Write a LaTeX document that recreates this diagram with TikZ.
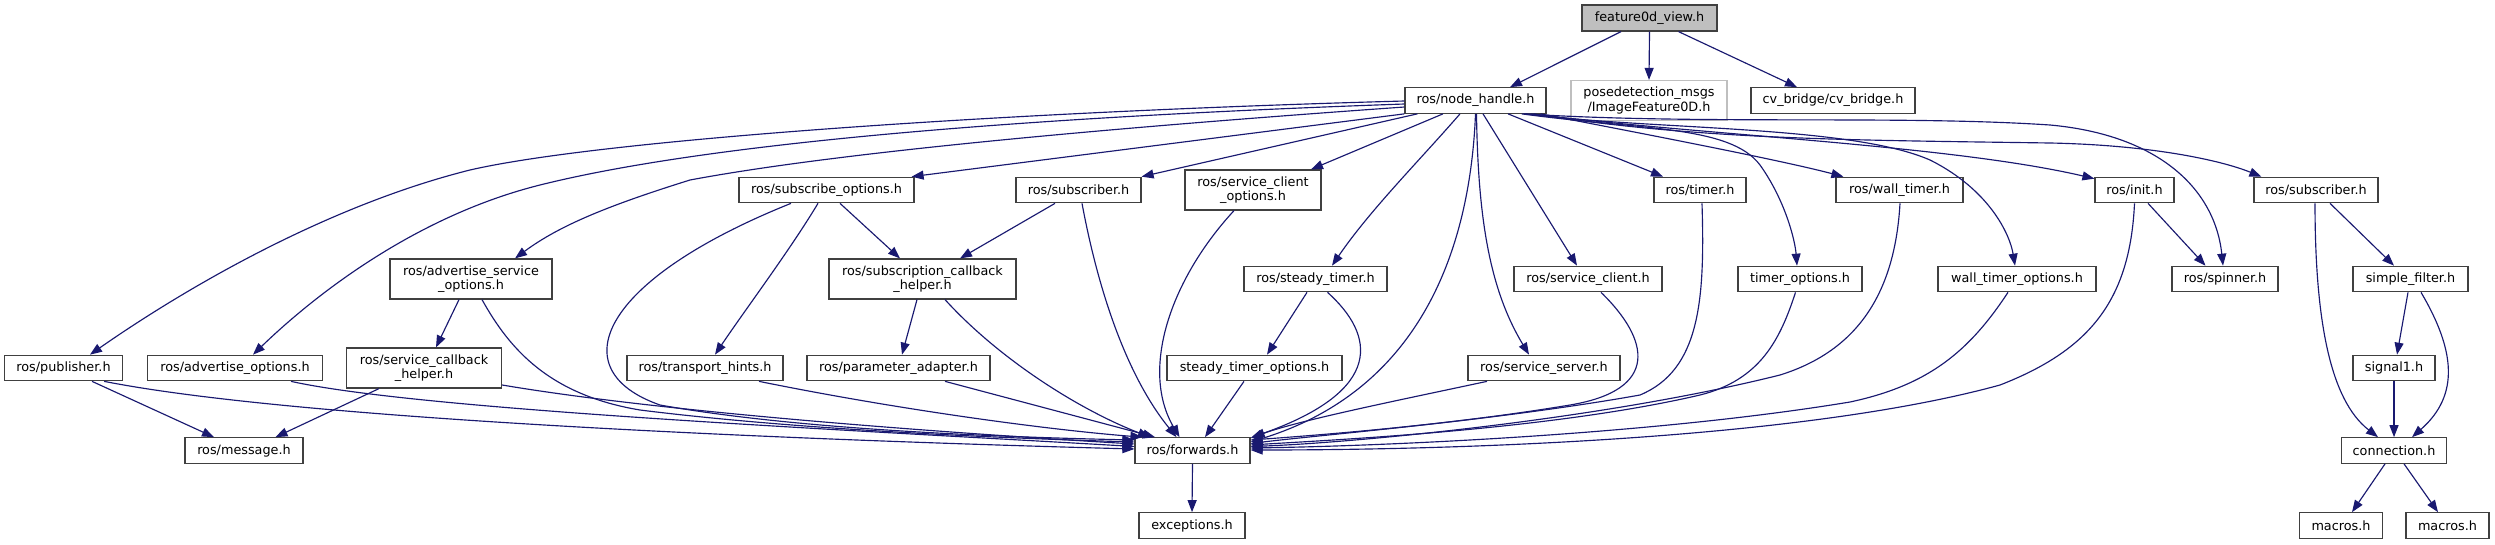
\documentclass[tikz,border=0pt]{standalone}
\usepackage{fontspec}
\setmainfont{DejaVu Sans}
\usetikzlibrary{arrows.meta,calc}
\definecolor{edgeblue}{HTML}{191970}
\definecolor{nodegray}{HTML}{404040}
\definecolor{rootfill}{HTML}{BFBFBF}
\definecolor{missgray}{HTML}{BFBFBF}
\begin{document}
\begin{tikzpicture}[x=1pt,y=-1pt,
  file/.style={draw=nodegray, line width=1.2pt, fill=white, inner sep=0pt,
    minimum height=25.5pt, align=center, font=\fontsize{12.8}{14.5}\selectfont},
  two/.style={minimum height=40pt},
  rootnode/.style={file, fill=rootfill},
  missing/.style={file, draw=missgray},
  dep/.style={draw=edgeblue, line width=1.15pt, -{Triangle[length=12pt,width=9pt]}}]
\useasboundingbox (0,0) rectangle (2495,544);
% nodes
\node[rootnode, minimum width=135pt, minimum height=26pt] (f0) at (1649.5,18) {feature0d\_view.h};
\node[file, minimum width=141pt] (nh) at (1475.5,100.5) {ros/node\_handle.h};
\node[missing, two, minimum width=156pt] (pose) at (1649,100.5) {posedetection\_msgs\\/ImageFeature0D.h};
\node[file, minimum width=164pt] (cvb) at (1833,100.5) {cv\_bridge/cv\_bridge.h};
% row 190
\node[file, minimum width=175pt] (subopt) at (826.5,190) {ros/subscribe\_options.h};
\node[file, minimum width=125pt] (sub1) at (1078.5,190) {ros/subscriber.h};
\node[file, two, minimum width=136pt] (sco) at (1253,190) {ros/service\_client\\\_options.h};
\node[file, minimum width=92pt] (timer) at (1700,190) {ros/timer.h};
\node[file, minimum width=127pt] (wtimer) at (1899.5,190) {ros/wall\_timer.h};
\node[file, minimum width=79pt] (init) at (2134.5,190) {ros/init.h};
\node[file, minimum width=124pt] (sub2) at (2316,190) {ros/subscriber.h};
% row 279
\node[file, two, minimum width=162pt] (aso) at (471,279) {ros/advertise\_service\\\_options.h};
\node[file, two, minimum width=187pt] (sch) at (922.5,279) {ros/subscription\_callback\\\_helper.h};
\node[file, minimum width=143pt] (stimer) at (1315.5,279) {ros/steady\_timer.h};
\node[file, minimum width=148pt] (sclient) at (1588,279) {ros/service\_client.h};
\node[file, minimum width=124pt] (topt) at (1800,279) {timer\_options.h};
\node[file, minimum width=158pt] (wtopt) at (2017,279) {wall\_timer\_options.h};
\node[file, minimum width=106pt] (spinner) at (2225,279) {ros/spinner.h};
\node[file, minimum width=115pt] (sfilter) at (2410.5,279) {simple\_filter.h};
% row 368
\node[file, minimum width=118pt] (pub) at (63.5,368) {ros/publisher.h};
\node[file, minimum width=175pt] (adv) at (235,368) {ros/advertise\_options.h};
\node[file, two, minimum width=155pt] (scbh) at (424,368) {ros/service\_callback\\\_helper.h};
\node[file, minimum width=156pt] (th) at (705,368) {ros/transport\_hints.h};
\node[file, minimum width=183pt] (pa) at (898.5,368) {ros/parameter\_adapter.h};
\node[file, minimum width=175pt] (stopt) at (1254.5,368) {steady\_timer\_options.h};
\node[file, minimum width=152pt] (ss) at (1544,368) {ros/service\_server.h};
\node[file, minimum width=82pt] (signal1) at (2394,368) {signal1.h};
% row 450
\node[file, minimum width=118pt] (msg) at (244,450.5) {ros/message.h};
\node[file, minimum width=115pt] (fwd) at (1192.5,450.5) {ros/forwards.h};
\node[file, minimum width=105pt] (conn) at (2394,450.5) {connection.h};
% row 525
\node[file, minimum width=106pt] (exc) at (1192,525.5) {exceptions.h};
\node[file, minimum width=83pt] (mac1) at (2341,525.5) {macros.h};
\node[file, minimum width=83pt] (mac2) at (2447.5,525.5) {macros.h};

% edges from root
\draw[dep] ($(f0.south)+(-28.5,0)$) -- ($(nh.north)+(34.5,0)$);
\draw[dep] (f0.south) -- (pose.north);
\draw[dep] ($(f0.south)+(29,0)$) -- ($(cvb.north)+(-36,0)$);

% edges from node_handle
\draw[dep] ($(nh.west)+(0,0.5)$) .. controls (1000,112) and (600,140) .. (470,170) .. controls (330,205) and (190,285) .. ($(pub.north)+(26.5,0)$);
\draw[dep] ($(nh.west)+(0,3.5)$) .. controls (1000,118) and (700,145) .. (540,185) .. controls (420,215) and (320,290) .. ($(adv.north)+(18,0)$);
\draw[dep] ($(nh.west)+(0,6.5)$) .. controls (1150,125) and (850,150) .. (690,180) .. controls (610,205) and (560,225) .. ($(aso.north)+(44,0)$);
\draw[dep] (nh.south west) -- ($(subopt.north east)+(-3,0)$);
\draw[dep] ($(nh.south west)+(13,0)$) -- (sub1.north east);
\draw[dep] ($(nh.south)+(-32.5,0)$) -- ($(sco.north)+(58,0)$);
\draw[dep] ($(nh.south)+(-15.5,0)$) .. controls (1420,160) and (1370,210) .. ($(stimer.north)+(16.5,0)$);
\draw[dep] (nh.south) .. controls (1470,250) and (1420,390) .. ($(fwd.east)+(0,-8.5)$);
\draw[dep] ($(nh.south)+(1,0)$) .. controls (1478,220) and (1490,290) .. ($(ss.north)+(-15,0)$);
\draw[dep] ($(nh.south)+(7.5,0)$) -- ($(sclient.north)+(-11,0)$);
\draw[dep] ($(nh.south)+(32.5,0)$) -- ($(timer.north)+(-37,0)$);
\draw[dep] ($(nh.south east)+(-25,0)$) .. controls (1640,130) and (1730,125) .. (1760,165) .. controls (1785,200) and (1795,240) .. ($(topt.north)+(-3,0)$);
\draw[dep] ($(nh.south east)+(-6,0)$) .. controls (1650,135) and (1780,160) .. ($(wtimer.north west)+(8,0)$);
\draw[dep] ($(nh.south east)+(-21,0)$) .. controls (1650,130) and (1850,125) .. (1930,160) .. controls (1990,190) and (2010,235) .. ($(wtopt.north)+(-2,0)$);
\draw[dep] ($(nh.south east)+(-16,0)$) .. controls (1700,135) and (1950,145) .. ($(init.north west)+(0,2)$);
\draw[dep] ($(nh.south east)+(-23,0)$) .. controls (1700,125) and (1900,115) .. (2050,125) .. controls (2160,135) and (2215,190) .. ($(spinner.north)+(-2,0)$);
\draw[dep] ($(nh.south east)+(-13,0)$) .. controls (1700,140) and (1850,140) .. (2050,143) .. controls (2150,145) and (2220,160) .. ($(sub2.north west)+(8,0)$);

% left part
\draw[dep] ($(pub.south)+(28.5,0)$) -- ($(msg.north)+(-30,0)$);
\draw[dep] ($(pub.south east)+(-19,0)$) .. controls (300,420) and (800,440) .. ($(fwd.west)+(0,-1.5)$);
\draw[dep] ($(adv.south)+(56,0)$) .. controls (420,410) and (850,430) .. ($(fwd.west)+(0,-4)$);
\draw[dep] ($(scbh.east)+(0,17)$) .. controls (650,410) and (900,430) .. ($(fwd.west)+(0,-6.5)$);
\draw[dep] ($(scbh.south)+(-45,0)$) -- ($(msg.north)+(31.5,0)$);
\draw[dep] ($(aso.south)+(-12,0)$) -- ($(scbh.north)+(12,0)$);
\draw[dep] ($(aso.south)+(11,0)$) .. controls (510,350) and (550,395) .. (640,410) .. controls (800,430) and (1000,438) .. ($(fwd.west)+(0,-8.5)$);
\draw[dep] ($(subopt.south)+(-35.5,0)$) .. controls (600,280) and (560,370) .. (660,405) .. controls (800,430) and (1000,437) .. ($(fwd.west)+(0,-10.5)$);
\draw[dep] ($(subopt.south)+(-8.5,0)$) .. controls (790,250) and (745,310) .. ($(th.north)+(10,0)$);
\draw[dep] ($(subopt.south)+(13.5,0)$) -- ($(sch.north)+(-22.5,0)$);
\draw[dep] ($(sub1.south)+(-23.5,0)$) -- ($(sch.north)+(37.5,0)$);
\draw[dep] ($(sub1.south)+(3.5,0)$) .. controls (1100,300) and (1130,380) .. ($(fwd.north)+(-16,0)$);
\draw[dep] ($(sch.south)+(-5.5,0)$) -- ($(pa.north)+(3.5,0)$);
\draw[dep] ($(sch.south)+(22.5,0)$) .. controls (1000,360) and (1080,410) .. ($(fwd.north)+(-42.5,0)$);
\draw[dep] ($(th.south)+(54,0)$) .. controls (900,410) and (1050,430) .. ($(fwd.north west)+(8,0)$);
\draw[dep] ($(pa.south)+(46.5,0)$) -- ($(fwd.north)+(-37.5,0)$);
\draw[dep] ($(sco.south)+(-19,0)$) .. controls (1170,280) and (1140,370) .. ($(fwd.north)+(-13,0)$);

% middle
\draw[dep] ($(stimer.south)+(-8.5,0)$) -- ($(stopt.north)+(12.5,0)$);
\draw[dep] ($(stimer.south)+(12,0)$) .. controls (1375,335) and (1385,390) .. ($(fwd.north east)+(2,0)$);
\draw[dep] ($(stopt.south)+(-10.5,0)$) -- ($(fwd.north)+(12.5,0)$);
\draw[dep] ($(ss.south)+(-57,0)$) .. controls (1400,400) and (1300,420) .. ($(fwd.east)+(0,-12.5)$);
\draw[dep] ($(sclient.south)+(13,0)$) .. controls (1650,340) and (1660,390) .. (1570,405) .. controls (1450,425) and (1320,435) .. ($(fwd.east)+(0,-10.5)$);
\draw[dep] ($(timer.south)+(2,0)$) .. controls (1705,300) and (1700,370) .. (1640,395) .. controls (1500,420) and (1320,435) .. ($(fwd.east)+(0,-7)$);
\draw[dep] ($(topt.south)+(-4.5,0)$) .. controls (1780,340) and (1760,380) .. (1700,395) .. controls (1550,430) and (1330,440) .. ($(fwd.east)+(0,-5.5)$);
\draw[dep] ($(wtimer.south)+(0.5,0)$) .. controls (1895,290) and (1860,350) .. (1780,375) .. controls (1600,420) and (1350,443) .. ($(fwd.east)+(0,-4)$);
\draw[dep] ($(wtopt.south)+(-9,0)$) .. controls (1970,350) and (1930,385) .. (1850,402) .. controls (1650,435) and (1380,446) .. ($(fwd.east)+(0,-2.5)$);
\draw[dep] (init.south) .. controls (2130,300) and (2090,350) .. (2000,385) .. controls (1800,440) and (1450,450) .. ($(fwd.east)+(0,-0.5)$);
\draw[dep] (fwd.south) -- (exc.north);

% right part
\draw[dep] ($(init.south)+(13.5,0)$) -- ($(spinner.north)+(-19.5,0)$);
\draw[dep] ($(sub2.south)+(14,0)$) -- ($(sfilter.north)+(-16.5,0)$);
\draw[dep] ($(sub2.south)+(-1,0)$) .. controls (2315,320) and (2330,400) .. ($(conn.north)+(-16,0)$);
\draw[dep] ($(sfilter.south)+(-2.5,0)$) -- ($(signal1.north)+(3,0)$);
\draw[dep] ($(sfilter.south)+(10.5,0)$) .. controls (2455,350) and (2460,395) .. ($(conn.north)+(18,0)$);
\draw[dep] (signal1.south) -- (conn.north);
\draw[dep] ($(conn.south)+(-9,0)$) -- ($(mac1.north)+(11,0)$);
\draw[dep] ($(conn.south)+(10,0)$) -- ($(mac2.north)+(-9.5,0)$);
\end{tikzpicture}
\end{document}
